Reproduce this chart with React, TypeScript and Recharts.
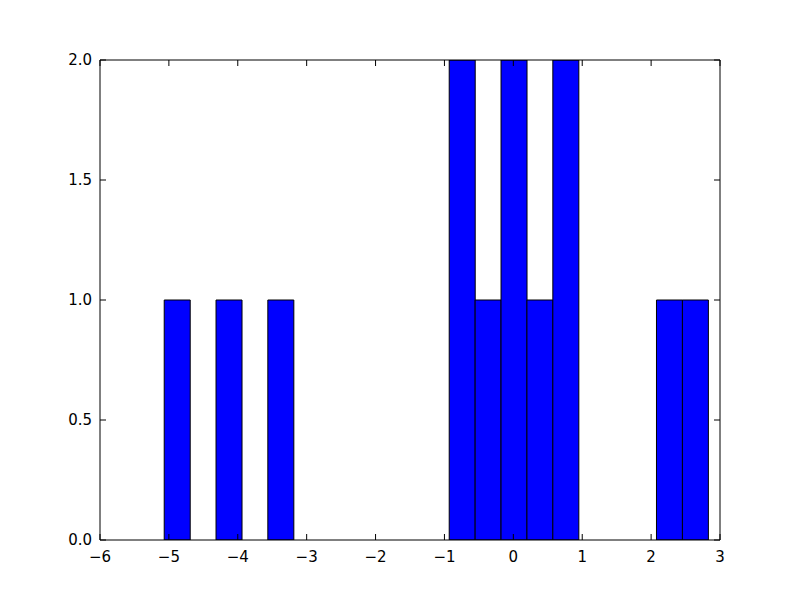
import { Bar, ComposedChart, Line, XAxis, YAxis } from "recharts";

// histogram: 21 equal bins
const binStart = -5.068;
const binWidth = 0.3761;
const counts = [1, 0, 1, 0, 1, 0, 0, 0, 0, 0, 0, 2, 1, 2, 1, 2, 0, 0, 0, 1, 1];

const xTicks = [-6, -5, -4, -3, -2, -1, 0, 1, 2, 3];
const yTicks = [0, 0.5, 1.0, 1.5, 2.0];

const data = counts.map((count, i) => ({
    center: binStart + binWidth * (i + 0.5),
    count,
}));

const fmtX = (v: number) => String(v).replace("-", "\u2212");
const fmtY = (v: number) => v.toFixed(1);
const blank = () => "";

const tickFont = { fontFamily: "DejaVu Sans", fontSize: 15, fill: "#000" };
const black = { stroke: "#000", strokeWidth: 1 };
const TICK = 6;

export default function App() {
    return (
        <div style={{ position: "absolute", left: 0, top: 0, width: 800, height: 600, background: "#fff" }}>
            <ComposedChart
                width={800}
                height={600}
                data={data}
                margin={{ top: 60, right: 80, bottom: 30, left: 40 }}
                barCategoryGap={0}
                barGap={0}
            >
                {/* inward tick marks: mirrored 1px axes on all four sides */}
                <XAxis
                    xAxisId="bt"
                    dataKey="center"
                    type="number"
                    domain={[-6, 3]}
                    ticks={xTicks}
                    allowDataOverflow
                    height={1}
                    mirror
                    tickSize={TICK}
                    tickFormatter={blank}
                    axisLine={false}
                    tickLine={black}
                    interval={0}
                />
                <XAxis
                    dataKey="center"
                    type="number"
                    domain={[-6, 3]}
                    ticks={xTicks}
                    allowDataOverflow
                    height={30}
                    tickSize={0}
                    tickMargin={11}
                    tickFormatter={fmtX}
                    tick={tickFont}
                    axisLine={black}
                    tickLine={false}
                    interval={0}
                />
                <XAxis
                    xAxisId="top"
                    orientation="top"
                    dataKey="center"
                    type="number"
                    domain={[-6, 3]}
                    ticks={xTicks}
                    allowDataOverflow
                    height={1}
                    mirror
                    tickSize={TICK}
                    tickFormatter={blank}
                    axisLine={black}
                    tickLine={black}
                    interval={0}
                />
                <YAxis
                    yAxisId="lt"
                    type="number"
                    domain={[0, 2]}
                    ticks={yTicks}
                    allowDataOverflow
                    width={1}
                    mirror
                    tickSize={TICK}
                    tickFormatter={blank}
                    axisLine={false}
                    tickLine={black}
                    interval={0}
                />
                <YAxis
                    type="number"
                    domain={[0, 2]}
                    ticks={yTicks}
                    allowDataOverflow
                    width={60}
                    tickSize={0}
                    tickMargin={8}
                    tickFormatter={fmtY}
                    tick={tickFont}
                    axisLine={black}
                    tickLine={false}
                    interval={0}
                />
                <YAxis
                    yAxisId="right"
                    orientation="right"
                    type="number"
                    domain={[0, 2]}
                    ticks={yTicks}
                    allowDataOverflow
                    width={1}
                    mirror
                    tickSize={TICK}
                    tickFormatter={blank}
                    axisLine={black}
                    tickLine={black}
                    interval={0}
                />
                <Bar dataKey="count" fill="#0000ff" stroke="#000" strokeWidth={1} isAnimationActive={false} />
                {/* invisible series so the tick-only axes get drawn */}
                <Line xAxisId="bt" yAxisId="lt" dataKey="count" stroke="none" dot={false} activeDot={false} isAnimationActive={false} />
                <Line xAxisId="top" yAxisId="right" dataKey="count" stroke="none" dot={false} activeDot={false} isAnimationActive={false} />
            </ComposedChart>
        </div>
    );
}
